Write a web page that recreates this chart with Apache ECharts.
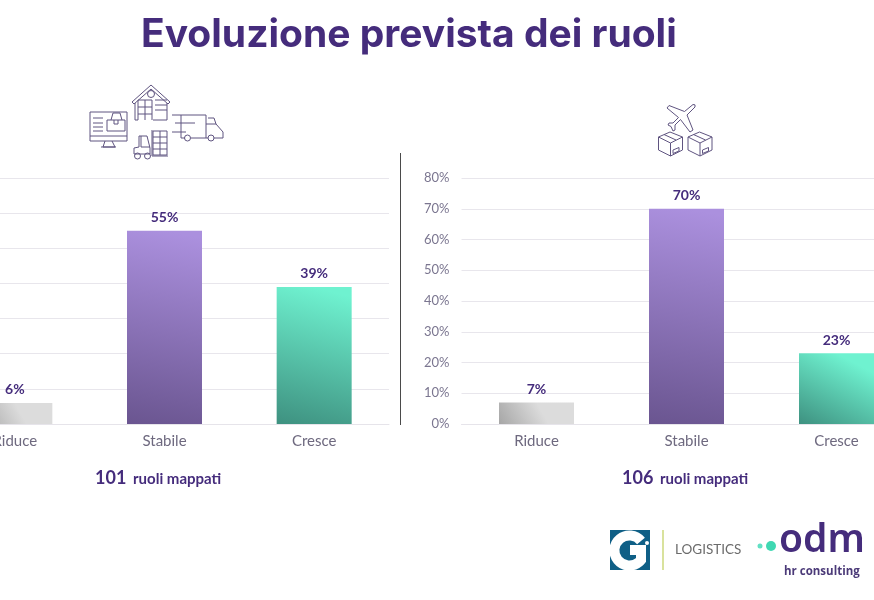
<!DOCTYPE html>
<html lang="it">
<head>
<meta charset="utf-8">
<title>Evoluzione prevista dei ruoli</title>
<script src="https://cdn.jsdelivr.net/npm/echarts@6/dist/echarts.min.js"></script>
<style>
  html, body { margin: 0; padding: 0; background: #fff; overflow: hidden; }
  #chart { width: 874px; height: 600px; }
</style>
</head>
<body>
<div id="chart"></div>
<script>
// Data
const categories = ['Riduce', 'Stabile', 'Cresce'];
const leftValues = [6, 55, 39];
const rightValues = [7, 70, 23];
const leftAxisMax = 70;
const rightAxisMax = 80;
const roleCounts = ['101', '106'];

const PURPLE = '#452c7c';
const LABEL_FONT = 'Lato';
const ICON_COLOR = '#5f5480';

// Dark bottom-left corner fading to light, one per category
function barGradient(dark, light) {
    return new echarts.graphic.LinearGradient(0, 1, 0.5, 0, [
        { offset: 0, color: dark },
        { offset: 1, color: light }
    ]);
}

const barColors = [
    barGradient('#a6a6a6', '#dcdcdc'),
    barGradient('#6a5590', '#ab90de'),
    barGradient('#3e9180', '#6ff2d0')
];

function styledValues(values) {
    return values.map((value, i) => ({ value: value, itemStyle: { color: barColors[i] } }));
}

function makeXAxis(gridIndex) {
    return {
        type: 'category',
        gridIndex: gridIndex,
        data: categories,
        axisTick: { show: false },
        axisLine: { lineStyle: { color: '#e6e4ea', width: 1 } },
        axisLabel: { color: '#6e697f', fontFamily: LABEL_FONT, fontSize: 15, margin: 10 }
    };
}

function makeYAxis(gridIndex, max) {
    return {
        type: 'value',
        gridIndex: gridIndex,
        min: 0,
        max: max,
        interval: 10,
        axisLine: { show: false },
        axisTick: { show: false },
        splitLine: { lineStyle: { color: '#e8e6ec', width: 1 } },
        axisLabel: { formatter: '{value}%', color: '#7b7690', fontFamily: LABEL_FONT, fontSize: 13, margin: 12 }
    };
}

function makeSeries(index, values) {
    return {
        type: 'bar',
        xAxisIndex: index,
        yAxisIndex: index,
        barWidth: 75,
        data: styledValues(values),
        silent: true,
        label: {
            show: true,
            position: 'top',
            distance: 6,
            formatter: '{c}%',
            color: PURPLE,
            fontFamily: LABEL_FONT,
            fontWeight: 'bold',
            fontSize: 14
        }
    };
}

// The graphic component has no plain path type, so each drawing is registered as a shape
let iconCount = 0;
function iconPath(d, style) {
    const name = 'icon' + iconCount++;
    echarts.graphic.registerShape(name, echarts.graphic.extendPath(d, {}));
    return {
        type: name,
        style: Object.assign({ fill: 'none', stroke: ICON_COLOR, lineWidth: 1 }, style || {}),
        silent: true
    };
}

function pageText(text, x, y, font, color, extra) {
    return {
        type: 'text',
        x: x,
        y: y,
        silent: true,
        style: Object.assign({ text: text, font: font, fill: color, textVerticalAlign: 'middle' }, extra || {})
    };
}

// Line drawings above the two charts and the logos, in page pixels
function buildDecorations() {
    const warehouse = 'M132 102 L151 85 L170 102 L168 104 L151 89 L134 104 Z M135 103 V120 H138 M167 103 V120 H153 '
        + 'M138 120 V100 H152 V120 M138 107 H152 M138 114 H152 M145 100 V120 M155 100 H167 M155 105 H167 M155 110 H167 '
        + 'M154.5 94 A3.5 3.5 0 1 1 147.5 94 A3.5 3.5 0 1 1 154.5 94';
    const monitor = 'M90 112 H127 V141 H90 Z M90 136 H127 M105 141 L103 147 H115 L112 141 M101 147 H116 '
        + 'M93 118 H103 M93 123 H103 M93 127 H103 M93 131 H103 M107 120 H125 V131 H107 Z M111 120 L113 113 H120 L122 120 M114 120 V124 H118 V120';
    const truck = 'M172 115 H206 V138 M175 123 H195 M172 132 H186 M181 115 V138 H185 M191 138 H208 M214 138 H223 L223 132 L216 124 L206 124 '
        + 'M208 118 H214 L216 124 M190.5 138 A3 3 0 1 1 184.5 138 A3 3 0 1 1 190.5 138 M214 138 A3 3 0 1 1 208 138 A3 3 0 1 1 214 138';
    const forklift = 'M153 131 H167 V155 H153 Z M153 137 H167 M153 143 H167 M153 149 H167 M160 131 V155 M152 130 V156 H168 '
        + 'M134 148 L139 147 V136 H147 L150 148 V154 H134 Z M141 136 L141 147 L150 147 M140.5 156 A3 3 0 1 1 134.5 156 A3 3 0 1 1 140.5 156 '
        + 'M150.5 156 A3 3 0 1 1 144.5 156 A3 3 0 1 1 150.5 156';
    const plane = 'M693 104.5 Q696 104 695 107 L687 115 L693 130 L690 132 L680.5 119.5 L675 125 L675 130 L673 131 L671 126.5 '
        + 'L668 125 L669 123 L673 123 L678.5 117.5 L667 108 L669 105.5 L684.5 111.5 Z';
    const box = (dx) => {
        const a = (x, y) => (x + dx) + ' ' + y;
        return 'M' + a(670, 132) + ' L' + a(658.5, 137) + ' L' + a(658.5, 150) + ' L' + a(670.5, 156) + ' L' + a(682.5, 150) + ' L' + a(682.5, 137) + ' Z '
            + 'M' + a(658.5, 137) + ' L' + a(670.5, 143) + ' L' + a(682.5, 137) + ' M' + a(670.5, 143) + ' L' + a(670.5, 156) + ' '
            + 'M' + a(664, 134.5) + ' L' + a(676, 140) + ' M' + a(673, 150) + ' L' + a(679, 147.5) + ' L' + a(679, 151) + ' L' + a(673, 153.5) + ' Z';
    };

    const elements = [warehouse, monitor, truck, forklift, plane, box(0), box(29.5)].map(d => iconPath(d));

    // separator between the two charts
    elements.push({
        type: 'line',
        shape: { x1: 400.5, y1: 153, x2: 400.5, y2: 425 },
        style: { stroke: '#4a4a4a', lineWidth: 1 },
        silent: true
    });

    elements.push(pageText('Evoluzione prevista dei ruoli', 141, 35, 'bold 39px Inter', PURPLE));

    // "NNN ruoli mappati" under each chart
    elements.push(pageText(roleCounts[0], 95, 478, 'bold 18px Lato', PURPLE));
    elements.push(pageText('ruoli mappati', 133, 479, 'bold 15px Lato', PURPLE));
    elements.push(pageText(roleCounts[1], 622, 478, 'bold 18px Lato', PURPLE));
    elements.push(pageText('ruoli mappati', 660, 479, 'bold 15px Lato', PURPLE));

    // Gi logo
    elements.push({ type: 'rect', shape: { x: 610, y: 530, width: 40, height: 40 }, style: { fill: '#0f5f86' }, silent: true });
    elements.push(iconPath('M641 541 A15 15 0 1 0 641 560 L641 550 L630 550', { stroke: '#fff', lineWidth: 10 }));
    elements.push({ type: 'circle', shape: { cx: 647, cy: 543, r: 2 }, style: { fill: '#fff' }, silent: true });
    elements.push({ type: 'line', shape: { x1: 663, y1: 530, x2: 663, y2: 570 }, style: { stroke: '#cdd87c', lineWidth: 1.5 }, silent: true });
    elements.push(pageText('LOGISTICS', 675, 550, '13.5px Lato', '#6b6b6b'));

    // odm logo
    elements.push({ type: 'circle', shape: { cx: 760, cy: 546, r: 2.5 }, style: { fill: '#62e0c4' }, silent: true });
    elements.push({ type: 'circle', shape: { cx: 771, cy: 546, r: 5 }, style: { fill: '#3fd8b2' }, silent: true });
    elements.push(pageText('odm', 779, 541, '600 39px "Noto Sans"', PURPLE));
    elements.push(pageText('hr consulting', 784, 572, 'bold 11.5px "Open Sans"', '#4b3a78'));

    return elements;
}

function initializeChart() {
    const chart = echarts.init(document.getElementById('chart'), null, { renderer: 'canvas' });

    chart.setOption({
        animation: false,
        backgroundColor: '#ffffff',
        tooltip: { show: false },
        grid: [
            { left: -60, top: 178, width: 449, height: 246, containLabel: false, outerBoundsMode: 'none' },
            { left: 461.5, top: 178, width: 450, height: 246, containLabel: false, outerBoundsMode: 'none' }
        ],
        xAxis: [makeXAxis(0), makeXAxis(1)],
        yAxis: [makeYAxis(0, leftAxisMax), makeYAxis(1, rightAxisMax)],
        series: [makeSeries(0, leftValues), makeSeries(1, rightValues)],
        graphic: { elements: buildDecorations() }
    });
}

document.addEventListener('DOMContentLoaded', initializeChart);
</script>
</body>
</html>
